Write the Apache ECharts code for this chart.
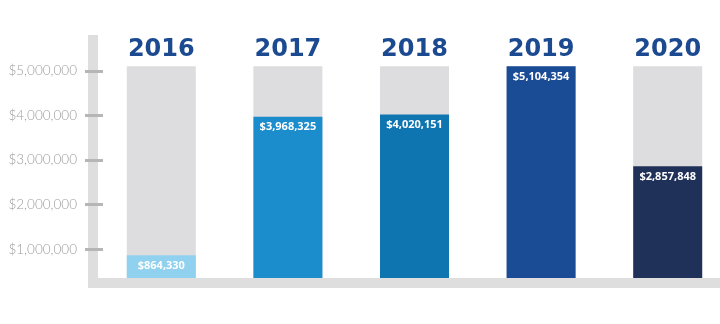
<!DOCTYPE html>
<html>
<head>
<meta charset="utf-8">
<style>
  html, body { margin: 0; padding: 0; background: #ffffff; }
  #chart { width: 720px; height: 324px; }
</style>
<script src="https://cdn.jsdelivr.net/npm/echarts@6/dist/echarts.min.js"></script>
</head>
<body>
<div id="chart"></div>
<script>
// Annual totals by year
const years = ['2016', '2017', '2018', '2019', '2020'];
const amounts = [864330, 3968325, 4020151, 5104354, 2857848];
const barColors = ['#8fd1ef', '#1b8dcc', '#0e75b1', '#1a4c96', '#1f3159'];
const tickValues = [1000000, 2000000, 3000000, 4000000, 5000000];

// Gray tracks behind each bar reach up to the best year
const peak = Math.max(...amounts);
const tracks = years.map(() => peak);

const money = v => '$' + Number(v).toLocaleString('en-US');

const axisGray = '#dedede';
const tickGray = '#b6b6b6';

const chart = echarts.init(document.getElementById('chart'), null, { renderer: 'canvas' });

const valueRange = { min: 130000, max: 5802700 };

chart.setOption({
  animation: false,
  backgroundColor: '#ffffff',
  grid: { left: 98, top: 35, width: 633, bottom: 36, outerBoundsMode: 'none', containLabel: false },
  xAxis: {
    type: 'category',
    data: years,
    position: 'bottom',
    offset: -5,
    z: 5,
    axisLine: { show: true, lineStyle: { color: axisGray, width: 10, cap: 'butt' } },
    axisTick: { show: false },
    axisLabel: { show: false },
    splitLine: { show: false }
  },
  yAxis: [
    {
      type: 'value',
      position: 'left',
      offset: 5,
      min: valueRange.min,
      max: valueRange.max,
      splitLine: { show: false },
      axisLine: { show: true, lineStyle: { color: axisGray, width: 10, cap: 'butt' } },
      axisTick: {
        show: true,
        inside: false,
        length: 8,
        customValues: tickValues,
        lineStyle: { color: tickGray, width: 3, cap: 'butt' }
      },
      axisLabel: {
        show: true,
        customValues: tickValues,
        margin: 16,
        color: '#9c9c9c',
        fontFamily: 'Lato',
        fontWeight: 300,
        fontSize: 13.5,
        formatter: money
      }
    },
    {
      type: 'value',
      position: 'left',
      offset: 5,
      min: valueRange.min,
      max: valueRange.max,
      splitLine: { show: false },
      axisLine: { show: false },
      axisTick: {
        show: true,
        inside: true,
        length: 10,
        customValues: tickValues,
        lineStyle: { color: tickGray, width: 3, cap: 'butt' }
      },
      axisLabel: { show: false }
    }
  ],
  series: [
    {
      name: 'track',
      type: 'bar',
      yAxisIndex: 0,
      data: tracks,
      barWidth: 69,
      barGap: '-100%',
      z: 1,
      itemStyle: { color: '#dddde0' },
      label: {
        show: true,
        position: 'top',
        distance: 4,
        formatter: '{b}',
        color: '#1c4a91',
        fontFamily: 'DejaVu Sans',
        fontWeight: 'bold',
        fontSize: 24
      },
      silent: true
    },
    {
      name: 'amount',
      type: 'bar',
      yAxisIndex: 0,
      data: amounts.map((v, i) => ({ value: v, itemStyle: { color: barColors[i] } })),
      barWidth: 69,
      barGap: '-100%',
      z: 2,
      label: {
        show: true,
        position: 'insideTop',
        distance: 5,
        formatter: p => money(p.value),
        color: '#ffffff',
        fontFamily: 'Open Sans',
        fontWeight: 'bold',
        fontSize: 11
      }
    }
  ]
});
</script>
</body>
</html>
